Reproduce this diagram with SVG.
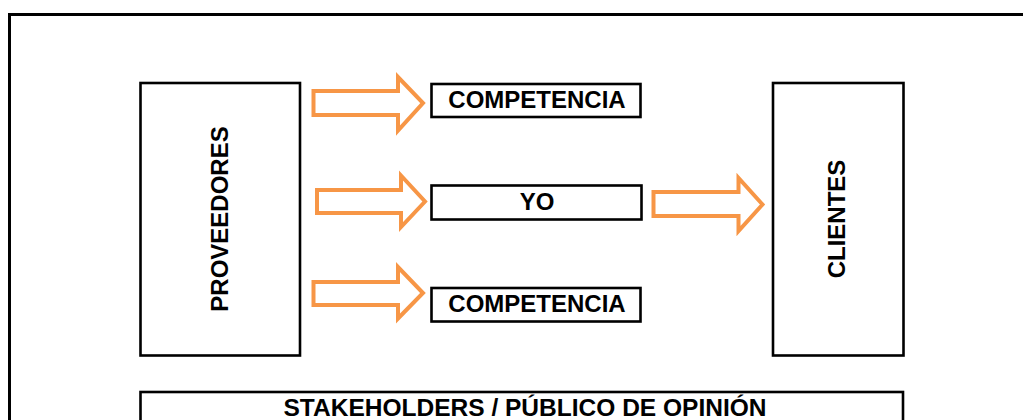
<svg xmlns="http://www.w3.org/2000/svg" width="1023" height="420" viewBox="0 0 1023 420">
  <style>
    .box { fill: #ffffff; stroke: #000000; stroke-width: 2.6; }
    .frame { fill: none; stroke: #000000; stroke-width: 3; }
    .arrow { fill: #ffffff; stroke: #F79646; stroke-width: 4; stroke-linejoin: miter; }
    .lbl { font-family: "Liberation Sans", Arial, sans-serif; font-weight: bold; font-size: 24px; fill: #000000; text-anchor: middle; }
  </style>
  <rect width="1023" height="420" fill="#ffffff"/>
  <rect id="frame" class="frame" x="9.5" y="14.5" width="1040" height="440"/>

  <g id="connectors">
    <path class="arrow" d="M313.5,91 L398,91 L398,77 L423,103 L398,130.5 L398,115 L313.5,115 Z"/>
    <path class="arrow" d="M317,190 L401,190 L401,175.5 L425,201.5 L401,227 L401,213 L317,213 Z"/>
    <path class="arrow" d="M313.5,282 L398,282 L398,267 L423,293 L398,318.5 L398,305 L313.5,305 Z"/>
    <path class="arrow" d="M653.5,192 L738.5,192 L738.5,178 L762.5,204.5 L738.5,231 L738.5,216 L653.5,216 Z"/>
  </g>

  <g id="proveedores">
    <rect class="box" x="140.5" y="83" width="159.5" height="272.5"/>
    <text class="lbl" transform="translate(228,219) rotate(-90)">PROVEEDORES</text>
  </g>
  <g id="competencia-top">
    <rect class="box" x="431.5" y="84" width="209" height="33"/>
    <text class="lbl" x="537" y="108">COMPETENCIA</text>
  </g>
  <g id="yo">
    <rect class="box" x="431.5" y="185.5" width="210" height="34"/>
    <text class="lbl" x="537" y="210">YO</text>
  </g>
  <g id="competencia-bottom">
    <rect class="box" x="431.5" y="288" width="209" height="33.5"/>
    <text class="lbl" x="537" y="311.5">COMPETENCIA</text>
  </g>
  <g id="clientes">
    <rect class="box" x="773" y="83" width="130.5" height="272.5"/>
    <text class="lbl" transform="translate(845,219) rotate(-90)">CLIENTES</text>
  </g>
  <g id="stakeholders">
    <rect class="box" x="140.5" y="392" width="762.5" height="40"/>
    <text class="lbl" x="525" y="416" textLength="483" lengthAdjust="spacingAndGlyphs">STAKEHOLDERS / PÚBLICO DE OPINIÓN</text>
  </g>
</svg>
